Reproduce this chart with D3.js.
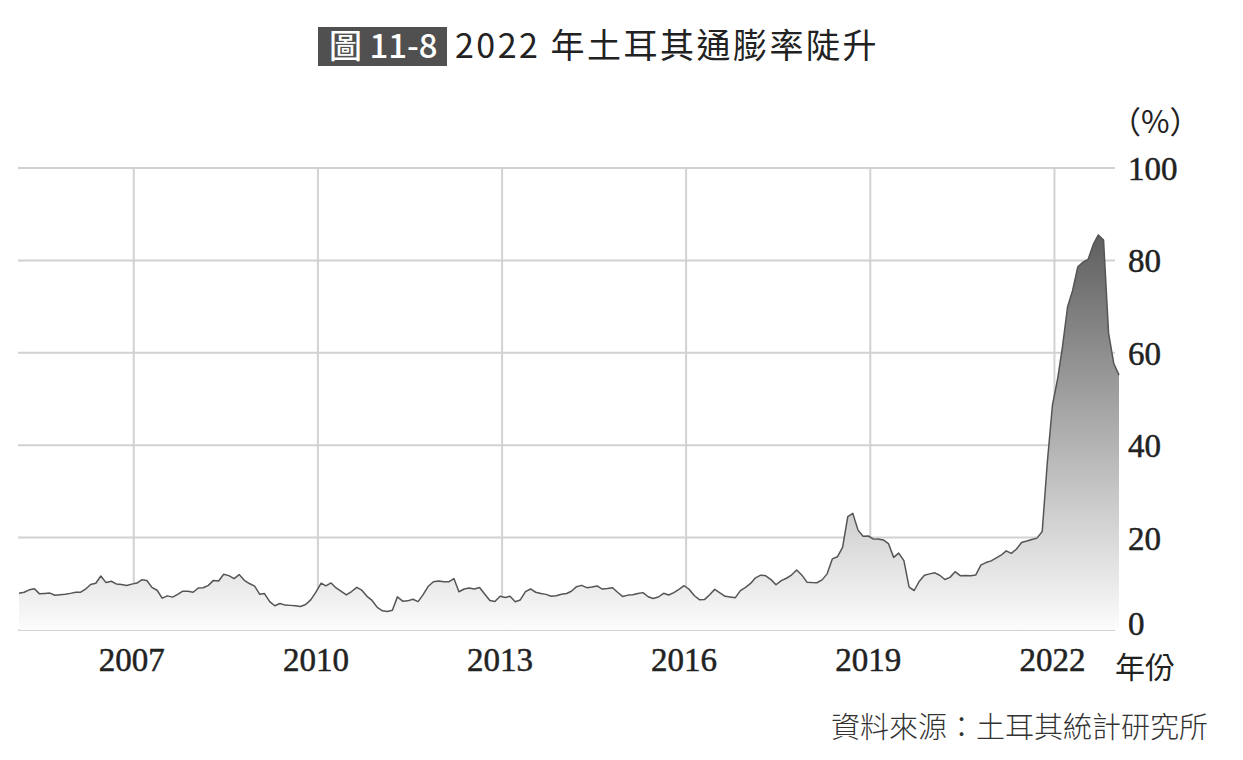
<!DOCTYPE html>
<html>
<head>
<meta charset="utf-8">
<script src="https://cdn.jsdelivr.net/npm/d3@7"></script>
<style>
  body { margin: 0; background: #fff; }
  .cjk { font-family: "Noto Sans CJK TC", "Noto Sans CJK SC", sans-serif; }
  .num { font-family: "Liberation Serif", "DejaVu Serif", serif; }
</style>
</head>
<body>
<div class="canvas"></div>
<script>
// Turkey CPI, annual change (%), monthly, starting March 2005
const firstYear = 2005;
const firstMonth = 3;
const cpiByYear = [
    [7.94, 8.18, 8.70, 8.95, 7.82, 7.91, 7.99, 7.52, 7.61, 7.72],
    [7.93, 8.15, 8.16, 8.83, 9.86, 10.12, 11.69, 10.26, 10.55, 9.98, 9.86, 9.65],
    [9.93, 10.16, 10.86, 10.72, 9.23, 8.60, 6.90, 7.39, 7.12, 7.70, 8.40, 8.39],
    [8.17, 9.10, 9.15, 9.66, 10.74, 10.61, 12.06, 11.77, 11.13, 11.99, 10.76, 10.06],
    [9.50, 7.73, 7.89, 6.13, 5.24, 5.73, 5.39, 5.33, 5.27, 5.08, 5.53, 6.53],
    [8.19, 10.13, 9.56, 10.19, 9.10, 8.37, 7.58, 8.33, 9.24, 8.62, 7.29, 6.40],
    [4.90, 4.16, 3.99, 4.26, 7.17, 6.24, 6.31, 6.65, 6.15, 7.66, 9.48, 10.45],
    [10.61, 10.43, 10.43, 11.14, 8.28, 8.87, 9.07, 8.88, 9.19, 7.80, 6.37, 6.16],
    [7.31, 7.03, 7.29, 6.13, 6.51, 8.30, 8.88, 8.17, 7.88, 7.71, 7.32, 7.40],
    [7.75, 7.89, 8.39, 9.38, 9.66, 9.16, 9.32, 9.54, 8.86, 8.96, 9.15, 8.17],
    [7.24, 7.55, 7.61, 7.91, 8.09, 7.20, 6.81, 7.14, 7.95, 7.58, 8.10, 8.81],
    [9.58, 8.78, 7.46, 6.57, 6.58, 7.64, 8.79, 8.05, 7.28, 7.16, 7.00, 8.53],
    [9.22, 10.13, 11.29, 11.87, 11.72, 10.90, 9.79, 10.68, 11.20, 11.90, 12.98, 11.92],
    [10.35, 10.26, 10.23, 10.85, 12.15, 15.39, 15.85, 17.90, 24.52, 25.24, 21.62, 20.30],
    [20.35, 19.67, 19.71, 19.50, 18.71, 15.72, 16.65, 15.01, 9.26, 8.55, 10.56, 11.84],
    [12.15, 12.37, 11.86, 10.94, 11.39, 12.62, 11.76, 11.77, 11.75, 11.89, 14.03, 14.60],
    [14.97, 15.61, 16.19, 17.14, 16.59, 17.53, 18.95, 19.25, 19.58, 19.89, 21.31, 36.08],
    [48.69, 54.44, 61.14, 69.97, 73.50, 78.62, 79.60, 80.21, 83.45, 85.51, 84.39, 64.27],
    [57.68, 55.18]
];
const yearTicks = [2007, 2010, 2013, 2016, 2019, 2022];
const valueTicks = [0, 20, 40, 60, 80, 100];

const titleTag = "圖 11-8";
const titleText = "2022 年土耳其通膨率陡升";
const unitLabel = "（%）";
const yearLabel = "年份";
const sourceText = "資料來源：土耳其統計研究所";

// flatten into dated points
const data = [];
cpiByYear.forEach((vals, i) => {
    vals.forEach((v, j) => {
        const m = (i === 0 ? firstMonth - 1 : 0) + j;
        data.push({ date: new Date(firstYear + i, m, 1), value: v });
    });
});

const dims = { width: 1243, height: 760 };
const plot = { left: 19, right: 1119, top: 168, bottom: 630, gridRight: 1115 };

const svg = d3
    .select(".canvas")
    .append("svg")
    .attr("width", dims.width)
    .attr("height", dims.height);

const x = d3
    .scaleTime()
    .domain(d3.extent(data, (d) => d.date))
    .range([plot.left, plot.right]);

const y = d3.scaleLinear().domain([0, 100]).range([plot.bottom, plot.top]);

// gradient for area
const grad = svg
    .append("defs")
    .append("linearGradient")
    .attr("id", "areaGrad")
    .attr("gradientUnits", "userSpaceOnUse")
    .attr("x1", 0)
    .attr("x2", 0)
    .attr("y1", y(0))
    .attr("y2", y(100));
grad.append("stop").attr("offset", "0%").attr("stop-color", "#fcfcfc");
grad.append("stop").attr("offset", "25%").attr("stop-color", "#cfcfcf");
grad.append("stop").attr("offset", "100%").attr("stop-color", "#444");

// grid
const grid = svg.append("g").attr("stroke", "#d2d2d2").attr("stroke-width", 2);

grid.selectAll("line.h")
    .data(valueTicks)
    .enter()
    .append("line")
    .attr("x1", plot.left - 1)
    .attr("x2", plot.gridRight)
    .attr("y1", (d) => y(d))
    .attr("y2", (d) => y(d));

grid.selectAll("line.v")
    .data(yearTicks)
    .enter()
    .append("line")
    .attr("x1", (d) => x(new Date(d, 0, 1)) + 2)
    .attr("x2", (d) => x(new Date(d, 0, 1)) + 2)
    .attr("y1", y(100))
    .attr("y2", y(0));

// area + line
const area = d3
    .area()
    .x((d) => x(d.date))
    .y0(y(0))
    .y1((d) => y(d.value));

const line = d3
    .line()
    .x((d) => x(d.date))
    .y((d) => y(d.value));

svg.append("path").datum(data).attr("d", area).attr("fill", "url(#areaGrad)");

svg.append("path")
    .datum(data)
    .attr("d", line)
    .attr("fill", "none")
    .attr("stroke", "#555")
    .attr("stroke-width", 1.5)
    .attr("stroke-linejoin", "round");

// y labels
svg.append("g")
    .selectAll("text")
    .data(valueTicks)
    .enter()
    .append("text")
    .attr("class", "num")
    .attr("x", 1128)
    .attr("y", (d) => (d === 0 ? y(d) + 5 : y(d) + 12))
    .attr("font-size", 33)
    .attr("fill", "#222")
    .attr("stroke", "#222")
    .attr("stroke-width", 0.5)
    .text((d) => d);

// x labels
svg.append("g")
    .selectAll("text")
    .data(yearTicks)
    .enter()
    .append("text")
    .attr("class", "num")
    .attr("x", (d) => x(new Date(d, 0, 1)))
    .attr("y", 671)
    .attr("text-anchor", "middle")
    .attr("font-size", 33)
    .attr("fill", "#222")
    .attr("stroke", "#222")
    .attr("stroke-width", 0.5)
    .text((d) => d);

svg.append("text")
    .attr("class", "cjk")
    .attr("x", 1115)
    .attr("y", 678)
    .attr("font-size", 30)
    .attr("fill", "#222")
    .text(yearLabel);

svg.append("text")
    .attr("class", "cjk")
    .attr("x", 1110)
    .attr("y", 133)
    .attr("font-size", 31)
    .attr("fill", "#222")
    .text(unitLabel);

// title
svg.append("rect")
    .attr("x", 318)
    .attr("y", 27)
    .attr("width", 129)
    .attr("height", 39)
    .attr("fill", "#505050");

svg.append("text")
    .attr("class", "cjk")
    .attr("x", 329)
    .attr("y", 58)
    .attr("font-size", 33)
    .attr("font-weight", 500)
    .attr("fill", "#fff")
    .text(titleTag);

svg.append("text")
    .attr("class", "cjk")
    .attr("x", 455)
    .attr("y", 58)
    .attr("font-size", 34)
    .attr("letter-spacing", 2.5)
    .attr("fill", "#222")
    .text(titleText);

// source
svg.append("text")
    .attr("class", "cjk")
    .attr("x", 1208)
    .attr("y", 738)
    .attr("text-anchor", "end")
    .attr("font-size", 29)
    .attr("font-weight", 300)
    .attr("fill", "#333")
    .text(sourceText);
</script>
</body>
</html>
